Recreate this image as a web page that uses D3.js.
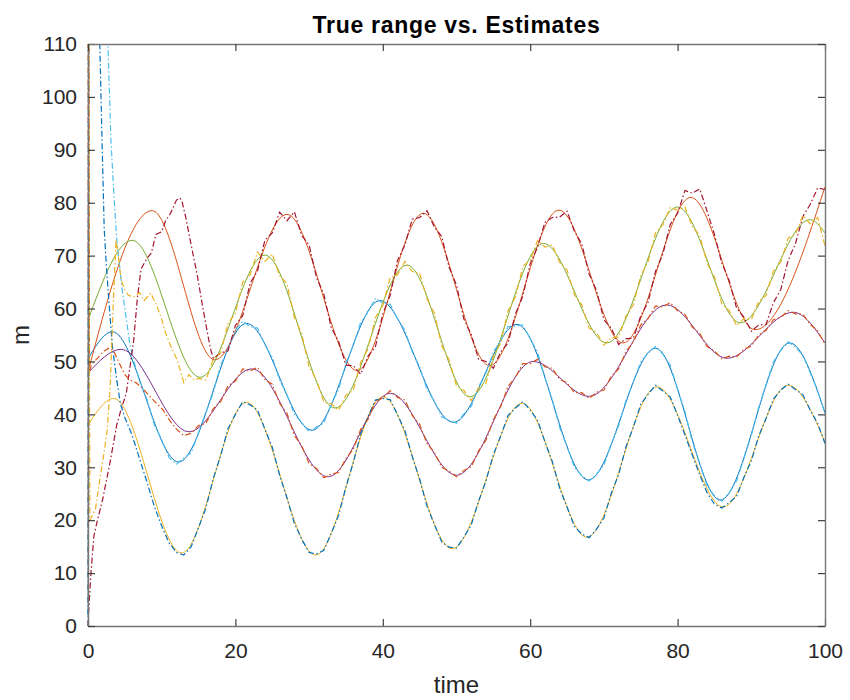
<!DOCTYPE html>
<html>
<head>
<meta charset="utf-8">
<script src="https://cdn.jsdelivr.net/npm/d3@7"></script>
<style>
  body { margin: 0; background: #fff; }
  text { font-family: "Liberation Sans", Arial, Helvetica, sans-serif; }
</style>
</head>
<body>
<svg id="chart" width="850" height="700"></svg>
<script>
// ---- data: true ranges (turning points) ----
var trueBlue   = [[0,50.5],[3.3,55.6],[12.3,31],[21.5,57.2],[30.4,37],[39.6,61.5],[49.6,38.5],[58.2,57],[67.9,27.6],[77,52.5],[85.8,23.8],[95.2,53.5],[100,40.3]];
var trueOrange = [[0,48],[8.7,78.5],[17.2,50.3],[27,77.8],[36.5,48.3],[45.5,78],[54.5,49.2],[63.9,78.6],[72.6,53.5],[81.8,81],[90.5,56],[100,83]];
var trueYellow = [[0,38],[3.5,43],[12.7,13.8],[21.5,42.3],[30.9,13.4],[40,43.3],[49.4,14.6],[58.9,42.1],[67.7,16.8],[77.2,45.2],[86.2,22.5],[95,45.5],[100,34.8]];
var truePurple = [[0,47.8],[4.5,52.3],[13.7,36.7],[22.2,48.6],[32.6,28.2],[41,44],[50,28.5],[60.4,50],[68,43.4],[78.5,60.7],[86.7,50.6],[95.7,59.3],[100,53.5]];
var trueGreen  = [[0,57.8],[6,72.9],[15.2,47],[24,70.1],[33.5,41.2],[43.3,68.2],[51.8,43.3],[61.8,72.3],[70.4,53.5],[80,79.2],[88.5,57.3],[98,76.8],[100,74.3]];

// ---- data: estimates, start-up transient as [t, m] then one value per time unit ----
var estLightBlueHead = [[0,0],[0.08,150],[2.7,110],[3.1,92],[3.5,82],[3.9,73],[4.6,64],[5.2,58],[5.6,54]];
var estLightBlueStart = 6;
var estLightBlue = [51.2,46.2,42.8,38.0,35.2,31.8,30.6,31.8,32.7,36.6,
  40.4,44.1,49.3,52.4,55.9,57.6,56.6,56.3,53.1,50.8,
  46.5,43.7,40.0,38.5,36.7,37.6,38.4,41.9,44.7,49.7,
  53.0,57.4,59.3,62.0,61.0,60.8,58.0,55.9,51.8,49.0,
  44.7,42.5,39.5,38.9,38.3,40.1,41.5,45.2,47.8,51.8,
  53.9,56.6,56.7,56.9,54.3,51.8,46.9,42.8,37.5,33.9,
  30.0,28.4,27.4,28.7,30.4,34.4,37.8,42.7,46.1,49.9,
  51.6,52.8,51.4,49.3,44.7,40.5,34.8,30.7,26.5,24.6,
  23.6,25.2,27.4,31.7,36.0,41.3,45.6,49.9,52.1,53.7,
  52.7,51.2,47.8,44.5,40.1];

var estDarkRedHead = [[0,0],[0.1,3],[0.4,10],[0.8,17],[1.2,19.5],[2,24],[3,31],[3.9,38],[4.5,41],[5.2,44],[5.8,50],[6.2,54],[6.7,62],[7.2,67.5],[8,69.5],[8.6,70.5],[9.2,74],[10,74.5],[10.5,76.5],[11.2,78],[12,80.5],[12.5,80.9],[12.8,80],[13.3,77],[14,72],[14.8,66.5],[15.6,60],[16.2,55.5],[16.6,52.5],[17,50.6]];
var estDarkRedStart = 18;
var estDarkRed = [51.6,52.0,56.8,58.7,64.8,67.1,72.9,74.3,78.2,76.6,
  78.3,73.8,72.0,65.9,62.7,56.4,53.8,49.3,49.2,47.6,
  51.0,52.8,59.0,62.5,69.1,72.0,76.9,77.2,78.5,75.4,
  73.6,67.8,64.4,58.0,55.1,50.4,50.0,48.7,51.8,53.5,
  59.0,62.3,68.5,71.6,76.3,77.2,77.3,78.4,74.6,72.2,
  66.5,63.4,57.9,56.3,53.2,54.3,54.4,58.6,61.2,67.0,
  70.3,75.9,78.0,82.3,81.8,82.6,78.4,74.0,68.6,65.3,
  60.1,58.4,55.7,56.9,57.0,61.1,63.6,69.1,72.3,77.4,
  79.7,82.8,82.5];

var estBlueHead = [[0,2],[0.1,160],[1.6,110],[1.9,92],[2.2,75],[2.5,68],[2.8,62],[3.3,53],[3.9,46.5],[4.4,42]];
var estBlueStart = 5;
var estBlue = [39.4,36.0,31.6,27.2,22.6,18.9,15.7,13.9,13.4,15.0,
  18.6,22.3,27.9,32.2,37.3,40.0,42.4,41.8,40.8,37.2,
  33.8,28.5,24.2,19.4,16.4,13.9,13.6,14.3,17.5,20.9,
  26.3,30.9,36.3,39.6,42.7,43.0,42.8,39.9,36.9,32.0,
  27.8,22.6,19.2,15.9,14.9,14.7,16.8,19.1,23.6,27.4,
  32.4,35.9,39.8,41.2,42.4,40.8,38.9,34.8,31.1,26.0,
  22.5,18.8,17.4,16.7,18.3,20.4,25.1,28.6,33.9,37.6,
  41.9,43.8,45.5,44.4,43.3,39.8,36.1,32.3,28.6,25.2,
  23.0,22.3,23.3,24.5,28.1,31.2,35.9,39.2,42.9,44.6,
  45.7,44.7,43.7,40.8,38.3,34.5];

var estOrangeHead = [[0,160],[0.05,3],[0.12,130],[0.2,48],[0.5,49.5],[1.2,50.5],[2,51.8],[2.8,52.5],[3.4,52.2],[4.3,49.5],[5,47.5],[5.7,46.5],[6.5,46],[7.3,45],[8,44],[9,42.5],[10.2,40.8],[11,39],[12,37.2],[13,36]];
var estOrangeStart = 14;
var estOrange = [36.4,37.9,38.3,41.1,42.4,45.4,46.3,48.6,48.2,48.9,
  46.6,45.7,42.1,40.2,36.0,34.1,30.7,29.8,28.0,28.7,
  29.0,31.7,33.4,37.2,39.1,42.4,43.1,44.5,43.2,42.7,
  39.8,38.1,34.5,32.8,30.0,29.3,28.2,29.4,30.1,33.1,
  35.1,39.0,41.5,45.3,47.0,49.6,49.6,50.4,49.0,48.7,
  46.6,46.0,44.1,44.1,43.0,44.2,44.6,47.2,48.6,51.9,
  53.7,56.9,58.1,60.5,60.3,61.1,59.6,58.9,56.5,55.3,
  52.8,52.0,50.5,51.0,50.8,52.3,52.9,55.0,55.9,57.9,
  58.3,59.6,59.0,58.9,57.0,55.8,53.2];

var estYellowHead = [[0,150],[0.1,110],[0.25,20],[0.5,20.6],[1,22],[1.6,27.6],[2.2,33],[2.6,37],[3,45],[3.4,60],[3.8,73],[4.1,70],[4.5,65.4],[5,63.5],[5.5,62.5],[6.2,62.2],[7,63],[7.6,61.5],[8.5,62.9],[9.2,61],[9.9,58.4],[10.5,55.5],[11.2,53],[12.1,50.3],[13,46],[13.7,47.5],[14.4,46.5],[15,46.8]];
var estYellowStart = 16;
var estYellow = [46.5,50.4,51.6,57.2,59.1,65.0,66.4,70.7,68.9,70.3,
  66.2,64.7,58.3,55.2,49.0,46.5,42.3,42.0,40.8,43.6,
  44.6,49.8,52.4,58.3,60.6,65.9,66.4,68.9,67.0,66.7,
  61.8,59.1,53.0,50.3,45.4,44.5,42.6,45.0,45.9,51.0,
  53.5,59.6,62.2,68.0,69.1,72.9,71.6,72.0,68.7,67.3,
  62.6,60.7,56.3,55.5,53.1,54.5,54.6,58.6,60.7,66.2,
  68.9,74.3,75.8,79.1,78.6,79.2,75.5,73.8,68.6,66.0,
  60.9,59.6,56.8,58.1,57.9,61.3,62.5,67.1,68.8,73.3,
  74.1,77.6,76.0,77.2,71.8];

var xTicks = [0, 20, 40, 60, 80, 100];
var yTicks = [0, 10, 20, 30, 40, 50, 60, 70, 80, 90, 100, 110];

// ---- layout (plot box in pixels) ----
var boxLeft = 88, boxRight = 825, boxTop = 44, boxBottom = 626;

var svg = d3.select("#chart");

var x = d3.scaleLinear().domain([0, 100]).range([boxLeft, boxRight]);
var y = d3.scaleLinear().domain([0, 110]).range([boxBottom, boxTop]);

svg.append("defs").append("clipPath")
    .attr("id", "plotclip")
  .append("rect")
    .attr("x", boxLeft - 1)
    .attr("y", boxTop)
    .attr("width", boxRight - boxLeft + 1)
    .attr("height", boxBottom - boxTop + 1);

function withTail(head, start, vals) {
  return head.concat(vals.map(function(v, i) { return [start + i, v]; }));
}

var smooth = d3.line()
  .x(function(d) { return x(d[0]); })
  .y(function(d) { return y(d[1]); })
  .curve(d3.curveMonotoneX);

var rough = d3.line()
  .x(function(d) { return x(d[0]); })
  .y(function(d) { return y(d[1]); });

var dashDot = "6,2.5,1.5,2.5";

var series = [
  { pts: trueBlue,   color: "#0072BD", dash: null },
  { pts: trueOrange, color: "#D95319", dash: null },
  { pts: trueYellow, color: "#EDB120", dash: null },
  { pts: truePurple, color: "#7E2F8E", dash: null },
  { pts: trueGreen,  color: "#77AC30", dash: null },
  { pts: withTail(estLightBlueHead, estLightBlueStart, estLightBlue), color: "#4DBEEE", dash: dashDot },
  { pts: withTail(estDarkRedHead, estDarkRedStart, estDarkRed),       color: "#A2142F", dash: dashDot },
  { pts: withTail(estBlueHead, estBlueStart, estBlue),                color: "#0072BD", dash: dashDot },
  { pts: withTail(estOrangeHead, estOrangeStart, estOrange),          color: "#D95319", dash: dashDot },
  { pts: withTail(estYellowHead, estYellowStart, estYellow),          color: "#EDB120", dash: dashDot }
];

var plot = svg.append("g").attr("clip-path", "url(#plotclip)");

plot.selectAll("path")
  .data(series)
  .enter()
  .append("path")
    .attr("d", function(d) { return d.dash ? rough(d.pts) : smooth(d.pts); })
    .style("fill", "none")
    .style("stroke", function(d) { return d.color; })
    .style("stroke-width", function(d) { return d.dash ? 1.2 : 1; })
    .style("stroke-dasharray", function(d) { return d.dash; });

// ---- axes (box with inward ticks on all four sides) ----
var axisColor = "#262626";

var gx = svg.append("g")
    .attr("transform", "translate(0," + boxBottom + ")")
    .call(d3.axisBottom(x).tickValues(xTicks).tickSizeInner(-7).tickSizeOuter(0).tickPadding(17));
var gy = svg.append("g")
    .attr("transform", "translate(" + boxLeft + ",0)")
    .call(d3.axisLeft(y).tickValues(yTicks).tickSizeInner(-7).tickSizeOuter(0).tickPadding(11));
var gt = svg.append("g")
    .attr("transform", "translate(0," + boxTop + ")")
    .call(d3.axisTop(x).tickValues(xTicks).tickSizeInner(-7).tickSizeOuter(0).tickFormat(""));
var gr = svg.append("g")
    .attr("transform", "translate(" + boxRight + ",0)")
    .call(d3.axisRight(y).tickValues(yTicks).tickSizeInner(-7).tickSizeOuter(0).tickFormat(""));

[gx, gy, gt, gr].forEach(function(g) {
  g.select(".domain").style("stroke", "#767676").style("stroke-width", 1.4);
  g.selectAll(".tick line").style("stroke", "#404040").style("stroke-width", 1.2);
  g.selectAll(".tick text")
    .style("fill", axisColor)
    .style("font-size", "21px")
    .style("font-family", "'Liberation Sans', Arial, Helvetica, sans-serif");
});

// ---- title and axis labels ----
svg.append("text")
    .attr("x", (boxLeft + boxRight) / 2)
    .attr("y", 33)
    .text("True range vs. Estimates")
    .style("text-anchor", "middle")
    .style("font-weight", "bold")
    .style("font-size", "23px")
    .style("letter-spacing", "0.7px")
    .style("fill", "#000");

svg.append("text")
    .attr("x", (boxLeft + boxRight) / 2)
    .attr("y", 693)
    .text("time")
    .style("text-anchor", "middle")
    .style("font-size", "24px")
    .style("fill", axisColor);

svg.append("text")
    .attr("transform", "translate(29," + ((boxTop + boxBottom) / 2) + ") rotate(-90)")
    .text("m")
    .style("text-anchor", "middle")
    .style("font-size", "24px")
    .style("fill", axisColor);
</script>
</body>
</html>
